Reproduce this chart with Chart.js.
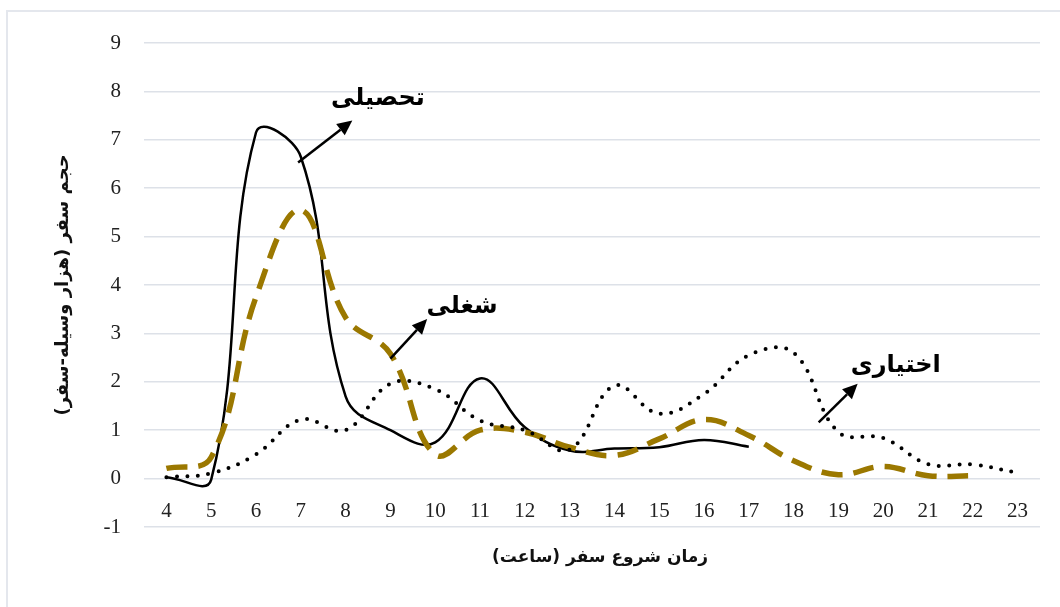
<!DOCTYPE html>
<html>
<head>
<meta charset="utf-8">
<script src="https://cdn.jsdelivr.net/npm/chart.js@4.4.0/dist/chart.umd.min.js"></script>
<style>
  html, body { margin: 0; padding: 0; background: #fff; }
  #wrap { position: relative; width: 1060px; height: 607px; overflow: hidden; }
  #frame { position: absolute; left: 6px; top: 10px; width: 1100px; height: 650px;
           border-left: 2px solid #e4e7ed; border-top: 2px solid #e4e7ed; }
  #chart { position: absolute; left: 0; top: 0; }
</style>
</head>
<body>
<div id="wrap">
  <div id="frame"></div>
  <canvas id="chart" width="1060" height="607"></canvas>
</div>
<script>
// start hour of trip
const hours = ['4', '5', '6', '7', '8', '9', '10', '11', '12', '13', '14', '15', '16', '17', '18', '19', '20', '21', '22', '23'];

// trip volume (thousand vehicle-trips)
const educational = [0.03, -0.02, 7.15, 6.65, 1.7, 1.0, 0.75, 2.07, 1.06, 0.58, 0.62, 0.65, 0.8, 0.66];
const work = [0.21, 0.44, 3.75, 5.55, 3.33, 2.58, 0.5, 1.0, 0.96, 0.65, 0.48, 0.82, 1.22, 0.89, 0.37, 0.08, 0.25, 0.06, 0.06];
const optional = [0.03, 0.11, 0.5, 1.22, 1.0, 1.96, 1.85, 1.2, 1.0, 0.6, 1.92, 1.34, 1.75, 2.55, 2.6, 0.96, 0.84, 0.3, 0.29, 0.12];

const yTicks = { min: -1, max: 9, step: 1 };

const xTitle = 'زمان شروع سفر (ساعت)\u200F';
const yTitle = 'حجم سفر (هزار وسیله-سفر)\u200F';

const persianFont = '"DejaVu Sans", sans-serif';
const numberFont = '"Liberation Serif", "Times New Roman", serif';

// labels with arrows, in axis units (x = category index)
const notes = [
    { text: 'تحصیلی', tail: [2.94, 6.53], head: [4.15, 7.4], at: [4.72, 7.84] },
    { text: 'شغلی', tail: [5.0, 2.48], head: [5.82, 3.3], at: [6.6, 3.55] },
    { text: 'اختیاری', tail: [14.56, 1.16], head: [15.43, 1.96], at: [16.28, 2.33] }
];

const arrowNotes = {
    id: 'arrowNotes',
    afterDatasetsDraw(chart) {
        const { ctx, chartArea, scales: { x, y } } = chart;
        ctx.save();
        notes.forEach(n => {
            const x1 = x.getPixelForValue(n.tail[0]);
            const y1 = y.getPixelForValue(n.tail[1]);
            const x2 = x.getPixelForValue(n.head[0]);
            const y2 = y.getPixelForValue(n.head[1]);
            const ang = Math.atan2(y2 - y1, x2 - x1);
            const len = 15;
            const bx = x2 - len * Math.cos(ang);
            const by = y2 - len * Math.sin(ang);

            ctx.strokeStyle = '#000';
            ctx.lineWidth = 2.5;
            ctx.beginPath();
            ctx.moveTo(x1, y1);
            ctx.lineTo(bx, by);
            ctx.stroke();

            ctx.fillStyle = '#000';
            ctx.beginPath();
            ctx.moveTo(x2, y2);
            ctx.lineTo(bx + 7 * Math.sin(ang), by - 7 * Math.cos(ang));
            ctx.lineTo(bx - 7 * Math.sin(ang), by + 7 * Math.cos(ang));
            ctx.closePath();
            ctx.fill();

            ctx.font = 'bold 24px ' + persianFont;
            ctx.textAlign = 'center';
            ctx.textBaseline = 'middle';
            ctx.direction = 'rtl';
            ctx.fillText(n.text, x.getPixelForValue(n.at[0]), y.getPixelForValue(n.at[1]));
        });

        // x axis title, centred under the plot
        ctx.font = 'bold 17px ' + persianFont;
        ctx.fillStyle = '#111';
        ctx.textAlign = 'center';
        ctx.textBaseline = 'middle';
        ctx.direction = 'rtl';
        ctx.fillText(xTitle, (chartArea.left + chartArea.right) / 2 + 8, chartArea.bottom + 31);
        ctx.restore();
    }
};

new Chart(document.getElementById('chart').getContext('2d'), {
    type: 'line',
    data: {
        labels: hours,
        datasets: [
            {
                label: 'اختیاری',
                data: optional,
                borderColor: '#000',
                borderWidth: 4,
                borderDash: [0, 10.5],
                borderCapStyle: 'round',
                pointRadius: 0,
                tension: 0.4
            },
            {
                label: 'شغلی',
                data: work,
                borderColor: '#9b7800',
                borderWidth: 5.5,
                borderDash: [21, 11],
                pointRadius: 0,
                tension: 0.4
            },
            {
                label: 'تحصیلی',
                data: educational,
                borderColor: '#000',
                borderWidth: 2.5,
                pointRadius: 0,
                tension: 0.4
            }
        ]
    },
    options: {
        responsive: false,
        animation: false,
        devicePixelRatio: 1,
        layout: { padding: { left: 53, right: 20, top: 43, bottom: 80 } },
        plugins: {
            legend: { display: false },
            tooltip: { enabled: false }
        },
        scales: {
            x: {
                position: { y: 0 },
                offset: true,
                grid: { display: false, drawTicks: false },
                border: { display: false },
                ticks: {
                    color: '#222',
                    padding: 20,
                    maxRotation: 0,
                    autoSkip: false,
                    font: { family: numberFont, size: 21 }
                }
            },
            y: {
                min: yTicks.min,
                max: yTicks.max,
                afterFit(scale) { scale.width = 91; },
                grid: { color: '#dde1e8', lineWidth: 1.5, drawTicks: false },
                border: { display: false },
                ticks: {
                    stepSize: yTicks.step,
                    color: '#222',
                    padding: 23,
                    font: { family: numberFont, size: 21 }
                },
                title: {
                    display: true,
                    text: yTitle,
                    color: '#111',
                    font: { family: persianFont, size: 18, weight: 'bold' },
                    padding: { top: 0, bottom: 0 }
                }
            }
        }
    },
    plugins: [arrowNotes]
});
</script>
</body>
</html>
